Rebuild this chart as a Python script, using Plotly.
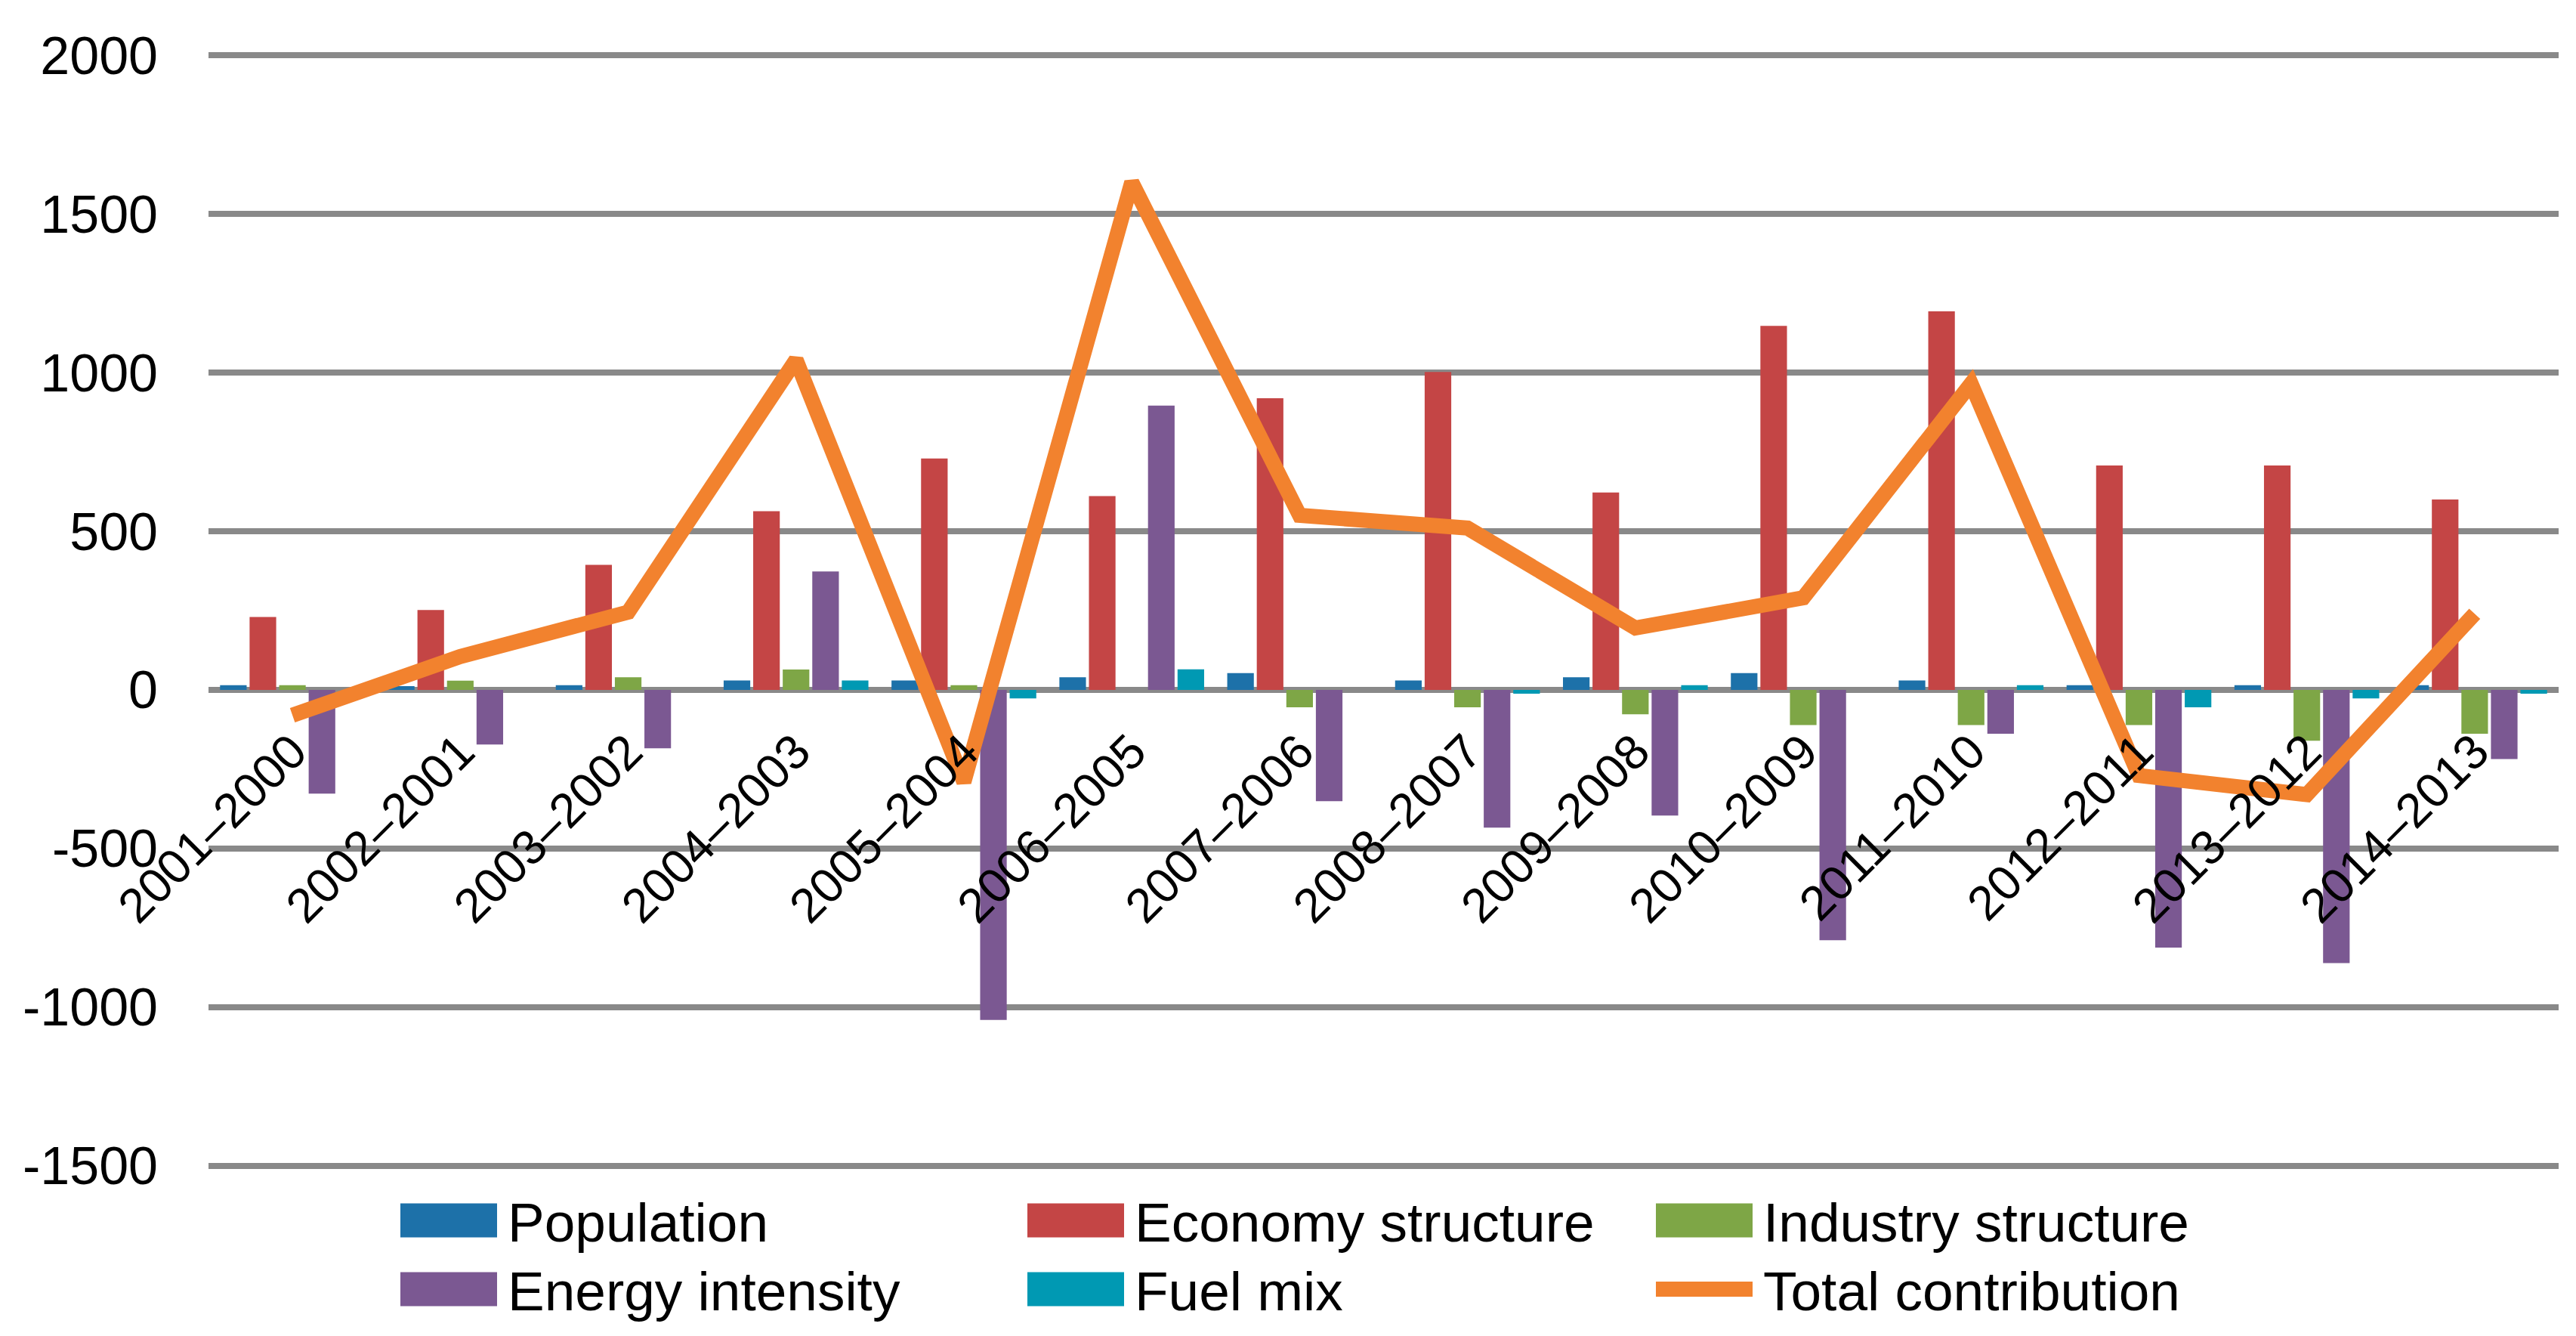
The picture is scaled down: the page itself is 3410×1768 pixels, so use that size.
import plotly.graph_objects as go

categories = ["2001–2000", "2002–2001", "2003–2002", "2004–2003", "2005–2004",
              "2006–2005", "2007–2006", "2008–2007", "2009–2008", "2010–2009",
              "2011–2010", "2012–2011", "2013–2012", "2014–2013"]
population = [15, 12, 15, 30, 30, 40, 53, 30, 40, 53, 30, 15, 15, 15]
economy_structure = [230, 252, 394, 563, 729, 611, 919, 1002, 622, 1147, 1193, 707, 707, 600]
industry_structure = [15, 29, 40, 64, 15, 0, -55, -55, -77, -111, -111, -111, -160, -138]
energy_intensity = [-327, -172, -184, 373, -1040, 896, -351, -434, -396, -789, -138, -812, -861, -218]
fuel_mix = [0, 0, 0, 30, -27, 65, 0, -12, 15, 0, 15, -55, -27, -12]
total_contribution = [-80, 105, 245, 1040, -290, 1600, 550, 510, 195, 290, 965, -270, -330, 240]
y_tick_vals = [-1500, -1000, -500, 0, 500, 1000, 1500, 2000]
y_tick_text = ["-1500", "-1000", "-500", "0", "500", "1000", "1500", "2000"]

FONT = "Liberation Sans, Arial, sans-serif"
W, H = 3410, 1768
ML, MR, MT, MB = 268, 31, 61, 229
Y_MIN, Y_MAX = -1510, 2010

series = [
    ("Population", population, "#1D71A9"),
    ("Economy structure", economy_structure, "#C44545"),
    ("Industry structure", industry_structure, "#7EA646"),
    ("Energy intensity", energy_intensity, "#7B5892"),
    ("Fuel mix", fuel_mix, "#0099B3"),
]
LINE_NAME, LINE_COLOR = "Total contribution", "#F2822E"

fig = go.Figure()
for name, vals, color in series:
    fig.add_trace(go.Bar(x=categories, y=vals, name=name, marker_color=color,
                         marker_line_width=0, showlegend=False))
fig.add_trace(go.Scatter(x=categories, y=total_contribution, name=LINE_NAME,
                         mode="lines", line=dict(color=LINE_COLOR, width=20),
                         showlegend=False))

# ---- custom legend (large swatches as in the original) ----
plot_w = W - ML - MR
plot_h = H - MT - MB


def px_x(px):
    return (px - ML) / plot_w


def px_y(py):
    return (H - MB - py) / plot_h


legend_cols = [522, 1352, 2184]
legend_rows = [1607, 1698]
sw_w, sw_h, text_gap = 128, 45, 12
entries = [(n, c, "bar") for n, _, c in series] + [(LINE_NAME, LINE_COLOR, "line")]
shapes = []
annotations = []
for i, (name, color, kind) in enumerate(entries):
    cx = legend_cols[i % 3]
    cy = legend_rows[i // 3]
    if kind == "bar":
        shapes.append(dict(type="rect", xref="paper", yref="paper",
                           x0=px_x(cx), x1=px_x(cx + sw_w),
                           y0=px_y(cy + sw_h / 2), y1=px_y(cy - sw_h / 2),
                           fillcolor=color, line=dict(width=0)))
    else:
        shapes.append(dict(type="line", xref="paper", yref="paper",
                           x0=px_x(cx), x1=px_x(cx + sw_w),
                           y0=px_y(cy), y1=px_y(cy),
                           line=dict(color=color, width=20)))
    annotations.append(dict(text=name, xref="paper", yref="paper",
                            x=px_x(cx + sw_w + text_gap), y=px_y(cy + 2),
                            xanchor="left", yanchor="middle", showarrow=False,
                            font=dict(family=FONT, size=73, color="black")))

fig.update_layout(
    width=W, height=H,
    margin=dict(l=ML, r=MR, t=MT, b=MB),
    paper_bgcolor="white", plot_bgcolor="white",
    barmode="group", bargap=0.12, bargroupgap=0.1,
    font=dict(family=FONT, size=68, color="black"),
    showlegend=False,
    shapes=shapes, annotations=annotations,
    xaxis=dict(type="category", anchor="free",
               position=(0 - Y_MIN) / (Y_MAX - Y_MIN),
               showgrid=False, showline=False, ticks="", tickangle=-45,
               ticklabelstandoff=30, tickfont=dict(family=FONT, size=64)),
    yaxis=dict(range=[Y_MIN, Y_MAX], tickvals=y_tick_vals, ticktext=y_tick_text,
               showgrid=True, gridcolor="#898989", gridwidth=8, zeroline=False,
               showline=False, ticks="", ticklabelstandoff=66,
               tickfont=dict(family=FONT, size=70)),
)

fig.write_html("out.html")
